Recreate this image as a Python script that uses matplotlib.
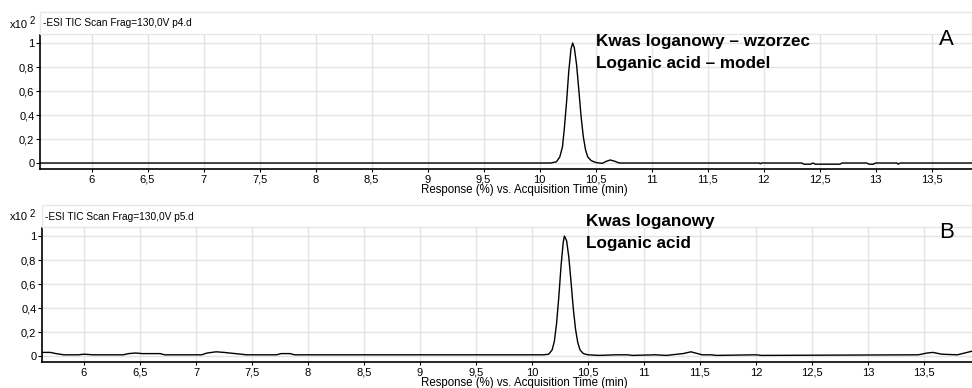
import matplotlib.pyplot as plt
from matplotlib.patches import Rectangle

plt.rcParams['font.family'] = ['Liberation Sans', 'DejaVu Sans']

# --- data (time in min, response x10^2 %) ---
time_a = [5.54, 10.10, 10.15, 10.18, 10.20, 10.205, 10.21, 10.22, 10.24, 10.26, 10.28,
          10.295, 10.31, 10.33, 10.35, 10.37, 10.39, 10.41, 10.43, 10.46, 10.50,
          10.53, 10.56, 10.59, 10.63, 10.67, 10.71, 11.96, 11.97, 11.98, 12.34,
          12.36, 12.42, 12.44, 12.46, 12.60, 12.62, 12.68, 12.70, 12.92, 12.94,
          12.98, 13.00, 13.19, 13.20, 13.22, 13.86]
resp_a = [0.0, 0.0, 0.01, 0.05, 0.12, 0.14, 0.19, 0.28, 0.50, 0.76, 0.95,
          1.0, 0.96, 0.82, 0.61, 0.39, 0.22, 0.11, 0.05, 0.02, 0.005,
          0.0, -0.003, 0.012, 0.025, 0.015, 0.0, 0.0, -0.006, 0.0, 0.0,
          -0.01, -0.01, 0.0, -0.01, -0.01, -0.01, -0.01, 0.0, 0.0, -0.01,
          -0.01, 0.0, 0.0, -0.01, 0.0, 0.0]

time_b = [5.62, 5.70, 5.75, 5.82, 5.95, 6.00, 6.08, 6.35, 6.40, 6.46, 6.52, 6.68,
          6.72, 7.05, 7.10, 7.18, 7.25, 7.35, 7.45, 7.72, 7.76, 7.84, 7.88, 10.10,
          10.15, 10.18, 10.20, 10.22, 10.24, 10.26, 10.28, 10.29, 10.31, 10.33,
          10.35, 10.37, 10.39, 10.41, 10.43, 10.46, 10.50, 10.60, 10.75, 10.85,
          10.90, 11.10, 11.20, 11.35, 11.42, 11.48, 11.52, 11.60, 11.65, 12.00,
          12.05, 13.45, 13.53, 13.58, 13.66, 13.80, 13.93]
resp_b = [0.03, 0.03, 0.02, 0.01, 0.01, 0.015, 0.01, 0.01, 0.02, 0.025, 0.02, 0.02,
          0.01, 0.01, 0.025, 0.035, 0.03, 0.02, 0.01, 0.01, 0.02, 0.02, 0.01, 0.01,
          0.015, 0.05, 0.12, 0.27, 0.49, 0.75, 0.95, 1.0, 0.96, 0.82,
          0.61, 0.39, 0.22, 0.11, 0.05, 0.02, 0.01, 0.005, 0.01, 0.01,
          0.005, 0.01, 0.005, 0.02, 0.035, 0.02, 0.01, 0.01, 0.005, 0.01,
          0.005, 0.01, 0.025, 0.03, 0.015, 0.01, 0.04]

x_ticks = [6, 6.5, 7, 7.5, 8, 8.5, 9, 9.5, 10, 10.5, 11, 11.5, 12, 12.5, 13, 13.5]
x_labels = ['6', '6,5', '7', '7,5', '8', '8,5', '9', '9,5', '10', '10,5',
            '11', '11,5', '12', '12,5', '13', '13,5']
y_ticks = [0, 0.2, 0.4, 0.6, 0.8, 1]
y_labels = ['0', '0,2', '0,4', '0,6', '0,8', '1']

W, H = 972, 388
fig = plt.figure(figsize=(W / 100, H / 100), dpi=100)


def px(x, y):
    return x / W, 1 - y / H


panels = [
    dict(l=40, top=35, bot=169, xlim=(5.54, 13.86), t=time_a, r=resp_a,
         head_y=12, head='-ESI TIC Scan Frag=130,0V p4.d',
         notes=['Kwas loganowy \u2013 wzorzec', 'Loganic acid \u2013 model'],
         note_x=596, note_y=46, tag='A', xlab_y=190),
    dict(l=42, top=228, bot=362, xlim=(5.625, 13.93), t=time_b, r=resp_b,
         head_y=205, head='-ESI TIC Scan Frag=130,0V p5.d',
         notes=['Kwas loganowy', 'Loganic acid'],
         note_x=586, note_y=226, tag='B', xlab_y=383),
]

for p in panels:
    x0, y0 = px(p['l'], p['bot'])
    ax = fig.add_axes([x0, y0, 1 - x0, (p['bot'] - p['top']) / H])
    ax.plot(p['t'], p['r'], color='black', lw=1.0)
    ax.set_xlim(*p['xlim'])
    ax.set_ylim(-0.05, 1.067)
    ax.set_xticks(x_ticks, x_labels)
    ax.set_yticks(y_ticks, y_labels)
    ax.grid(True, color='#e3e3e3', lw=1.0)
    ax.set_axisbelow(True)
    for s in ['top', 'right']:
        ax.spines[s].set_visible(False)
    ax.spines['left'].set_linewidth(1.2)
    ax.spines['bottom'].set_linewidth(1.2)
    ax.tick_params(axis='x', length=2, pad=2, labelsize=8)
    ax.tick_params(axis='y', length=3, pad=1, labelsize=8)

    # header strip
    hx, hy = px(p['l'], p['top'] - 1)
    fig.patches.append(Rectangle((hx, hy), 1 - hx, (p['top'] - 1 - p['head_y']) / H,
                                 transform=fig.transFigure, facecolor='white',
                                 edgecolor='#e6e6e6', lw=1))
    fig.text(*px(p['l'] + 3, (p['head_y'] + p['top']) / 2), p['head'],
             fontsize=7.3, va='center', ha='left')
    fig.text(*px(10, (p['head_y'] + p['top']) / 2 + 1), 'x10', fontsize=8,
             va='center', ha='left')
    fig.text(*px(30, (p['head_y'] + p['top']) / 2 - 3), '2', fontsize=7,
             va='center', ha='left')

    # compound notes
    for i, line in enumerate(p['notes']):
        fig.text(*px(p['note_x'], p['note_y'] + 22 * i), line, fontsize=12.3,
                 fontweight='bold', va='baseline', ha='left')
    fig.text(*px(939, p['top'] + 10), p['tag'], fontsize=16, va='baseline', ha='left')
    fig.text(*px(524, p['xlab_y']), 'Response (%) vs. Acquisition Time (min)',
             fontsize=8.3, ha='center', va='center')

fig.savefig('out.png', dpi=100)
